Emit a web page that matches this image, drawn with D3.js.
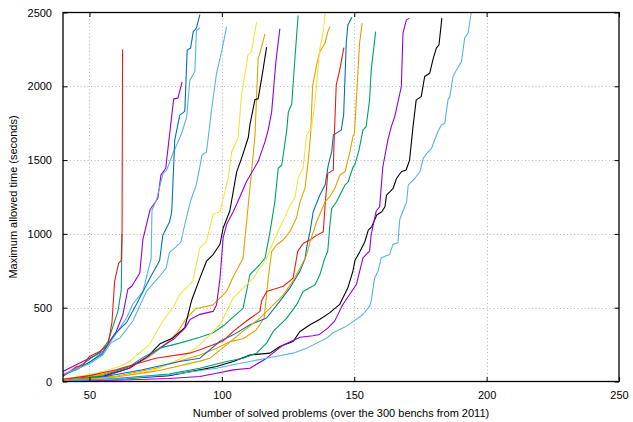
<!DOCTYPE html>
<html>
<head>
<meta charset="utf-8">
<script src="https://cdn.jsdelivr.net/npm/d3@7"></script>
<style>
  html, body { margin: 0; padding: 0; background: #fff; }
  svg { display: block; font-family: "Liberation Sans", Arial, sans-serif; }
</style>
</head>
<body>
<svg id="chart"></svg>
<script>
// cactus plot: solved problems vs time limit

const xTicks = [50, 100, 150, 200, 250];
const yTicks = [0, 500, 1000, 1500, 2000, 2500];

// one array per solver, [solved, seconds]
const purpleA = [[40,68],[45,113],[50,158],[55,203],[57.6,271],[60.1,339],[62.6,452],[64.5,625],[66,645],[69,735],[70.2,965],[72.9,1165],[75.8,1240],[77,1400],[78.8,1445],[80.2,1665],[81.8,1915],[83.4,1920],[85,2030]];
const greenA = [[40,40],[45,90],[50,150],[54,200],[57,270],[59,380],[60.8,480],[62,620],[62.3,1000]];
const lightblueA = [[40,40],[50,130],[55,200],[58,270],[61,350],[64,430],[66.4,525],[70.2,610],[73.3,835],[73.6,1160],[75.3,1230],[77.8,1410],[79.1,1430],[81.5,1545],[84.8,1680],[86.7,1790],[87.9,2040],[89.8,2100],[90.4,2380],[91.7,2395]];
const orangeA = [[40,15],[55,50],[65,100],[72,160],[78,240],[83,330],[86.7,430],[90.3,497],[91.7,500],[96.7,519],[101.8,610],[104,700],[108,835],[112.5,1660],[113.7,2190],[114.3,2220],[116.3,2355]];
const yellowA = [[40,15],[52.5,56],[61.3,102],[65.1,136],[72.7,250],[77.7,410],[81.6,500],[84,587],[89,680],[91.7,905],[94.2,950],[96.7,1135],[99.3,1150],[102.4,1380],[103.7,1555],[106.2,1655],[107.4,1940],[109.9,2215],[111.2,2235],[113.1,2435]];
const blueA = [[40,45],[45,80],[50,130],[55,190],[57.6,271],[60,330],[64,400],[67.8,525],[72.8,700],[76.5,820],[77.7,990],[80.2,1080],[80.8,1125],[81.1,1160],[82.2,1635],[84.1,1805],[86,1830],[86.9,2245],[88.2,2260],[89.2,2370],[90.4,2395],[91.7,2485]];
const redA = [[40,35],[45,100],[47.5,110],[50,170],[54,205],[57,250],[58.5,400],[59.5,680],[61,800],[62,820],[62.3,1000],[62.5,2250]];
const blackA = [[40,10],[55,35],[65,90],[72,170],[76.6,255],[81.5,295],[86,365],[88.5,545],[91.7,700],[94.2,815],[96.7,860],[99.3,930],[100.5,1040],[103,1155],[105.6,1420],[107.5,1515],[110,1655],[110.6,1740],[112.5,1910],[113.7,1915],[115,2050],[116.9,2265]];
const purpleB = [[40,8],[55,30],[65,90],[72,170],[77.7,240],[82,290],[86,360],[88,420],[91.7,455],[96.7,475],[98,520],[99.3,700],[100.5,975],[101.8,1065],[104.3,1150],[106.8,1250],[109.3,1355],[113.7,1490],[116.3,1625],[117.5,1705],[118.8,1825],[120.4,2165],[121.9,2390]];
const greenB = [[40,10],[55,40],[65,100],[70,160],[76.5,226],[84,260],[91.7,300],[96.7,330],[101.1,385],[108,495],[110.6,725],[113.7,780],[116.3,835],[118.2,1015],[120,1215],[121.3,1445],[122.6,1465],[124.5,1700],[125.1,1825],[126.4,1880],[127.6,2190],[128.8,2480]];
const lightblueB = [[40,50],[50,120],[55,180],[58,260],[61.5,295],[66.4,410],[71.5,610],[76.6,715],[79,770],[80.2,875],[82.6,910],[84.5,945],[86.4,1095],[88.3,1230],[90.3,1330],[91.6,1445],[92.5,1535],[94.2,1555],[96.1,1840],[98,2090],[99.9,2235],[101.8,2405]];
const orangeB = [[40,12],[60,35],[75,90],[91.7,180],[98,225],[103,270],[108,290],[113,350],[116,430],[117.5,700],[118.8,880],[120.7,925],[123.2,960],[125.7,1015],[128.2,1110],[129.5,1215],[131.4,1310],[132.6,1490],[133.5,1670],[134.3,2005],[135.8,2145],[137,2235],[138.9,2290],[140.2,2380],[140.9,2405]];
const yellowB = [[40,10],[60,30],[75,80],[85,160],[91.7,250],[99.3,385],[104.3,565],[106.8,610],[111.8,700],[116.9,835],[119.4,945],[121.8,1040],[123.8,1110],[125.7,1195],[127.6,1245],[128.8,1380],[130.7,1445],[132,1670],[133.9,1720],[135.2,1895],[137,2255],[138.3,2370],[139,2500]];
const blueB = [[40,8],[55,30],[70,80],[84,136],[91.7,158],[99.3,273],[104.3,316],[110.6,385],[116.9,430],[121.9,545],[125.7,633],[129.5,748],[131.4,830],[132,904],[133.3,1015],[134.5,1150],[137,1263],[139,1331],[140.2,1467],[141.5,1557],[142.1,1670],[145.1,1703],[146,1805],[147,2300],[147.6,2415],[149.1,2468]];
const redB = [[40,15],[50,40],[60,80],[75,158],[87.8,192],[91.7,215],[95.5,240],[100.5,275],[104.3,340],[109.3,410],[114.4,475],[115,545],[116.9,610],[123.2,645],[126.9,700],[128.2,835],[128.6,880],[130.7,935],[133.3,960],[135.8,990],[138.3,1015],[139,1195],[140,1410],[142.1,1432],[142.3,1580],[143.2,2010],[144.5,2110],[146.1,2262]];
const blackB = [[40,5],[60,15],[80,40],[91.7,79],[98,102],[104.3,136],[110.6,180],[118.2,192],[121.9,237],[126.9,271],[129.5,339],[133.3,384],[136.9,420],[140.7,465],[144.5,522],[147.6,635],[149.5,748],[150.3,822],[152.1,879],[154,947],[155.3,1026],[156.6,1048],[158.5,1128],[160.4,1150],[161.6,1184],[162.2,1263],[163.5,1286],[164.7,1309],[166,1377],[167.8,1421],[169.6,1433],[170.9,1500],[172.2,1726],[173.4,1908],[175.3,1930],[176.6,2066],[178.5,2088],[179.7,2179],[181,2258],[182,2280],[183.1,2462]];
const purpleC = [[40,3],[60,8],[80,20],[91.7,34],[98,56],[104.3,79],[110.6,90],[116.9,158],[123.2,248],[129.5,300],[134.4,310],[136.9,319],[140.1,363],[142.6,409],[145.7,522],[150.8,657],[153.3,838],[155.8,884],[156.4,997],[158.3,1155],[159.6,1184],[160.8,1455],[162.7,1636],[164,1727],[165.3,1795],[167.8,2000],[168.4,2360],[169.7,2450],[170.9,2462]];
const greenC = [[40,5],[60,20],[80,50],[91.7,90],[101.8,136],[108,158],[113.1,192],[116.9,260],[119.4,339],[124.5,429],[128.2,519],[130.7,610],[135.2,655],[137,723],[138.9,836],[140,884],[140.8,1060],[141.5,1173],[143.3,1218],[145.2,1286],[146.5,1331],[147.7,1353],[149.6,1455],[150.2,1467],[151.8,1568],[153.3,1705],[154.5,1726],[155.8,1908],[156.4,2110],[158.1,2370]];
const lightblueC = [[40,5],[60,15],[80,45],[91.7,75],[98,90],[104.3,113],[110.6,136],[116.9,158],[123.2,180],[126.9,192],[132,226],[135.8,260],[139.6,294],[142,330],[147,375],[148.9,397],[153.3,454],[155.8,511],[156.4,545],[157.7,702],[159,748],[160.2,838],[163.4,861],[164.6,929],[166.5,940],[167.2,1098],[168.4,1155],[169.8,1218],[170.4,1331],[172.9,1377],[174.8,1421],[176.1,1512],[177.4,1546],[179.2,1580],[181.1,1670],[181.6,1692],[182.9,1738],[184.2,1749],[185.4,1908],[186.1,1930],[187.3,2066],[188.6,2111],[190.5,2167],[191.7,2326],[193,2360],[194.2,2500]];
const orangeC = [[40,8],[60,30],[75,70],[91.7,138],[95.5,158],[101.8,248],[108,341],[114.4,429],[119.4,519],[123.2,587],[126.9,680],[129.5,768],[132,856],[133.3,946],[135.8,1082],[139,1218],[140.8,1252],[142.7,1309],[144.6,1399],[146.5,1421],[148.4,1557],[149.6,1670],[150.1,1682],[152,2292],[153,2428]];

const runs = [purpleA, greenA, lightblueA, orangeA, yellowA, blueA, redA, blackA,
              purpleB, greenB, lightblueB, orangeB, yellowB, blueB, redB, blackB,
              purpleC, greenC, lightblueC, orangeC];

// gnuplot default line colours, cycled
const palette = ["#9400d3", "#009e73", "#56b4e9", "#e69f00", "#f0e442", "#0072b2", "#e51e10", "#000000"];

const width = 633, height = 422;
const plotLeft = 63, plotRight = 619, plotTop = 12.5, plotBottom = 381.5;

const svg = d3.select("#chart")
	.attr("width", width)
	.attr("height", height)
	.attr("viewBox", `0 0 ${width} ${height}`);

const x = d3.scaleLinear().domain([40, 250]).range([plotLeft, plotRight]);
const y = d3.scaleLinear().domain([0, 2500]).range([plotBottom, plotTop]);

// dotted grid
const grid = svg.append("g")
	.attr("stroke", "#b4b4b4")
	.attr("stroke-width", 1)
	.attr("stroke-dasharray", "1,2.5");
grid.selectAll("line.gx")
	.data(xTicks.filter(d => d < 250))
	.join("line")
	.attr("class", "gx")
	.attr("x1", d => Math.round(x(d)) + 0.5).attr("x2", d => Math.round(x(d)) + 0.5)
	.attr("y1", plotTop).attr("y2", plotBottom);
grid.selectAll("line.gy")
	.data(yTicks.filter(d => d > 0 && d < 2500))
	.join("line")
	.attr("class", "gy")
	.attr("x1", plotLeft).attr("x2", plotRight)
	.attr("y1", d => Math.round(y(d)) + 0.5).attr("y2", d => Math.round(y(d)) + 0.5);

svg.append("clipPath").attr("id", "plot")
	.append("rect")
	.attr("x", plotLeft).attr("y", plotTop)
	.attr("width", plotRight - plotLeft).attr("height", plotBottom - plotTop);

const line = d3.line().x(d => x(d[0])).y(d => y(d[1]));

svg.append("g")
	.attr("clip-path", "url(#plot)")
	.selectAll("path")
	.data(runs)
	.join("path")
	.attr("d", line)
	.attr("fill", "none")
	.attr("stroke", (d, i) => palette[i % palette.length])
	.attr("stroke-width", 1.1)
	.attr("stroke-linejoin", "round");

// axes: ticks inside, mirrored on top and right
const tickLen = 4.5;
const fmt = d3.format("d");
const axisBottom = d3.axisBottom(x).tickValues(xTicks).tickFormat(fmt).tickSizeInner(-tickLen).tickSizeOuter(0).tickPadding(10);
const axisTop = d3.axisTop(x).tickValues(xTicks).tickSizeInner(-tickLen).tickSizeOuter(0).tickFormat("");
const axisLeft = d3.axisLeft(y).tickValues(yTicks).tickFormat(fmt).tickSizeInner(-tickLen).tickSizeOuter(0).tickPadding(11);
const axisRight = d3.axisRight(y).tickValues(yTicks).tickSizeInner(-tickLen).tickSizeOuter(0).tickFormat("");

function styleAxis(g) {
	g.select(".domain").remove();
	g.selectAll(".tick line").attr("stroke", "#000");
	g.selectAll(".tick text")
		.attr("fill", "#000")
		.style("font-family", "'Liberation Sans', Arial, sans-serif")
		.style("font-size", "11px");
}

svg.append("g").attr("transform", `translate(0,${plotBottom})`).call(axisBottom).call(styleAxis);
svg.append("g").attr("transform", `translate(0,${plotTop})`).call(axisTop).call(styleAxis);
svg.append("g").attr("transform", `translate(${plotLeft},0)`).call(axisLeft).call(styleAxis);
svg.append("g").attr("transform", `translate(${plotRight},0)`).call(axisRight).call(styleAxis);

// frame
svg.append("rect")
	.attr("x", plotLeft).attr("y", plotTop)
	.attr("width", plotRight - plotLeft).attr("height", plotBottom - plotTop)
	.attr("fill", "none")
	.attr("stroke", "#000")
	.attr("stroke-width", 1.3);

svg.append("text")
	.attr("x", (plotLeft + plotRight) / 2)
	.attr("y", 417)
	.attr("text-anchor", "middle")
	.attr("font-size", 11)
	.text("Number of solved problems (over the 300 benchs from 2011)");

svg.append("text")
	.attr("transform", `translate(16.5,${(plotTop + plotBottom) / 2}) rotate(-90)`)
	.attr("text-anchor", "middle")
	.attr("font-size", 11)
	.text("Maximum allowed time (seconds)");
</script>
</body>
</html>
